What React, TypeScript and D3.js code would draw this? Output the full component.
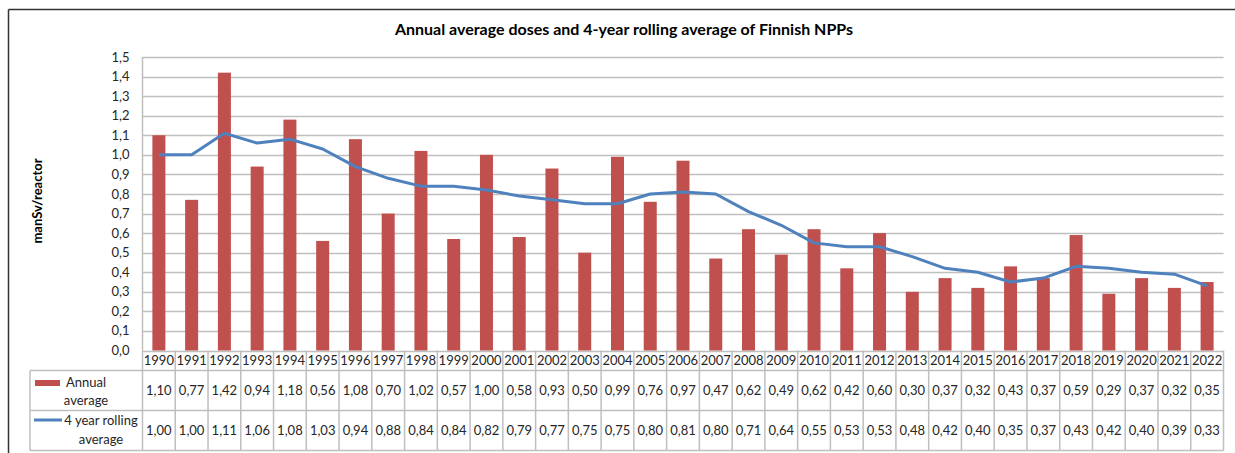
import React from "react";
import * as d3 from "d3";

const years = ["1990","1991","1992","1993","1994","1995","1996","1997","1998","1999","2000","2001","2002","2003","2004","2005","2006","2007","2008","2009","2010","2011","2012","2013","2014","2015","2016","2017","2018","2019","2020","2021","2022"];
const annualAverage = [1.10,0.77,1.42,0.94,1.18,0.56,1.08,0.70,1.02,0.57,1.00,0.58,0.93,0.50,0.99,0.76,0.97,0.47,0.62,0.49,0.62,0.42,0.60,0.30,0.37,0.32,0.43,0.37,0.59,0.29,0.37,0.32,0.35];
const rollingAverage = [1.00,1.00,1.11,1.06,1.08,1.03,0.94,0.88,0.84,0.84,0.82,0.79,0.77,0.75,0.75,0.80,0.81,0.80,0.71,0.64,0.55,0.53,0.53,0.48,0.42,0.40,0.35,0.37,0.43,0.42,0.40,0.39,0.33];
const yTicks = [0,0.1,0.2,0.3,0.4,0.5,0.6,0.7,0.8,0.9,1.0,1.1,1.2,1.3,1.4,1.5];
const title = "Annual average doses and 4-year rolling average of Finnish NPPs";
const yLabel = "manSv/reactor";

const W = 1235, H = 453;
const plotL = 142.5, plotR = 1223.5, plotT = 57, plotB = 350.5;
const row1B = 370.5, row2B = 410.5, row3B = 450.5;
const legL = 30;
const FONT = "Lato, 'Open Sans', sans-serif";
const TXT = "#262626";
const GRID = "#BFBFBF";
const RED = "#C0504D";
const BLUE = "#4F81BD";

const fmt = (v: number) => v.toFixed(2).replace(".", ",");
const fmt1 = (v: number) => v.toFixed(1).replace(".", ",");

export default function App() {
  const x = d3.scaleBand<string>().domain(years).range([plotL, plotR]);
  const y = d3.scaleLinear().domain([0, 1.5]).range([plotB, plotT]);
  const bw = 13;
  const line = d3.line<number>()
    .x((_, i) => (x(years[i]) as number) + x.bandwidth() / 2)
    .y((d) => y(d));
  const cx = (i: number) => (x(years[i]) as number) + x.bandwidth() / 2;

  return (
    <svg width={W} height={H} style={{ position: "absolute", left: 0, top: 0, background: "#fff" }} fontFamily={FONT}>
      <rect x={0} y={0} width={W} height={H} fill="#fff" />
      {/* outer border */}
      <line x1={8.5} y1={9.5} x2={W} y2={9.5} stroke="#333" strokeWidth={1.5} />
      <line x1={8.5} y1={9.5} x2={8.5} y2={H} stroke="#333" strokeWidth={1.5} />

      <text x={624} y={35} textAnchor="middle" fontSize={16} fontWeight="bold" fill="#000">{title}</text>

      <text transform={`translate(42,${201}) rotate(-90)`} textAnchor="middle" fontSize={13} fontWeight="bold" fill="#000">{yLabel}</text>

      {/* gridlines */}
      {yTicks.map((t) => (
        <g key={t}>
          <line x1={plotL} x2={plotR} y1={Math.round(y(t)) + 0.5} y2={Math.round(y(t)) + 0.5} stroke={GRID} strokeWidth={1.5} />
          <text x={plotL - 13} y={y(t)} dy="0.35em" textAnchor="end" fontSize={13} fill={TXT}>{fmt1(t)}</text>
        </g>
      ))}
      <line x1={plotL} x2={plotL} y1={plotT} y2={plotB} stroke={GRID} strokeWidth={1.5} />

      {/* bars */}
      {annualAverage.map((v, i) => (
        <rect key={years[i]} x={cx(i) - bw / 2} y={y(v)} width={bw} height={plotB - y(v)} fill={RED} />
      ))}

      {/* line */}
      <path d={line(rollingAverage) || ""} fill="none" stroke={BLUE} strokeWidth={3} strokeLinejoin="round" />

      {/* table */}
      <g stroke={GRID} strokeWidth={1.5}>
        <line x1={legL} x2={plotR} y1={row1B} y2={row1B} />
        <line x1={legL} x2={plotR} y1={row2B} y2={row2B} />
        <line x1={legL} x2={plotR} y1={row3B} y2={row3B} />
        <line x1={legL} x2={legL} y1={row1B} y2={row3B} />
        <line x1={plotL} x2={plotL} y1={plotB} y2={row3B} />
        {years.map((yr) => (
          <line key={yr} x1={(x(yr) as number) + x.bandwidth()} x2={(x(yr) as number) + x.bandwidth()} y1={plotB} y2={row3B} />
        ))}
      </g>
      {years.map((yr, i) => (
        <g key={yr} fontSize={13} fill={TXT} textAnchor="middle">
          <text x={cx(i)} y={(plotB + row1B) / 2} dy="0.35em">{yr}</text>
          <text x={cx(i)} y={(row1B + row2B) / 2} dy="0.35em">{fmt(annualAverage[i])}</text>
          <text x={cx(i)} y={(row2B + row3B) / 2} dy="0.35em">{fmt(rollingAverage[i])}</text>
        </g>
      ))}

      {/* legend cells */}
      <rect x={35} y={380} width={25} height={6} fill={RED} />
      <text x={86} y={382} dy="0.35em" textAnchor="middle" fontSize={13} fill={TXT}>Annual</text>
      <text x={86} y={400} dy="0.35em" textAnchor="middle" fontSize={13} fill={TXT}>average</text>
      <line x1={34} x2={62} y1={420} y2={420} stroke={BLUE} strokeWidth={3} />
      <text x={101} y={420} dy="0.35em" textAnchor="middle" fontSize={13} fill={TXT}>4 year rolling</text>
      <text x={101} y={439} dy="0.35em" textAnchor="middle" fontSize={13} fill={TXT}>average</text>
    </svg>
  );
}
